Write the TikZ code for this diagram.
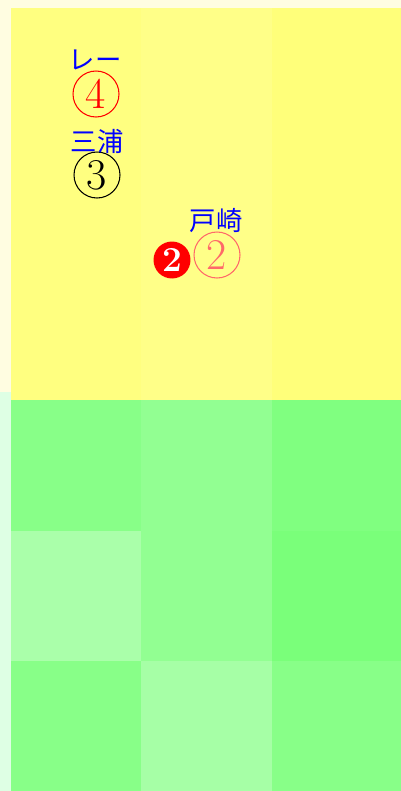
\documentclass[tikz,border=0pt]{standalone}
\usepackage{fontspec}
\newfontfamily\jpfont{Noto Sans CJK JP}
\usetikzlibrary{positioning}

\definecolor{paleyellow}{RGB}{255,253,225}
\definecolor{palegreen}{RGB}{222,255,228}
\definecolor{lightred}{RGB}{255,105,105}
\definecolor{yelA}{RGB}{255,255,128}
\definecolor{yelB}{RGB}{255,255,136}
\definecolor{yelC}{RGB}{255,255,122}
\definecolor{grnA}{RGB}{136,255,136}
\definecolor{grnB}{RGB}{146,255,146}
\definecolor{grnC}{RGB}{128,255,128}
\definecolor{grnD}{RGB}{170,255,170}
\definecolor{grnE}{RGB}{122,255,122}
\definecolor{grnF}{RGB}{166,255,166}

\tikzset{
  player/.style={circle,draw,line width=0.6pt,minimum size=0.92cm,inner sep=0pt,
    font=\fontsize{25}{25}\selectfont},
  ball/.style={circle,fill=red,text=white,minimum size=0.74cm,inner sep=0pt,
    font=\fontsize{20}{20}\selectfont\bfseries},
  plname/.style={text=blue,inner sep=0pt,font=\jpfont\fontsize{15}{15}\selectfont}
}

\begin{document}
\begin{tikzpicture}[x=0.02cm,y=-0.02cm]
  \useasboundingbox (0,0) rectangle (401,791);
  % background
  \fill[paleyellow] (0,0) rectangle (401,392);
  \fill[palegreen] (0,392) rectangle (401,791);
  % yellow half
  \fill[yelA] (11,8) rectangle (141,400);
  \fill[yelB] (141,8) rectangle (272,400);
  \fill[yelC] (272,8) rectangle (401,400);
  % green grid
  \fill[grnA] (11,400) rectangle (141,531);
  \fill[grnB] (141,400) rectangle (272,531);
  \fill[grnC] (272,400) rectangle (401,531);
  \fill[grnD] (11,531) rectangle (141,661);
  \fill[grnB] (141,531) rectangle (272,661);
  \fill[grnE] (272,531) rectangle (401,661);
  \fill[grnA] (11,661) rectangle (141,791);
  \fill[grnF] (141,661) rectangle (272,791);
  \fill[grnA] (272,661) rectangle (401,791);
  % players
  \node[player,draw=red,text=red] (p4) at (96,94) {4};
  \node[player,draw=black] (p3) at (97,175) {3};
  \node[player,draw=lightred,text=lightred] (p2) at (217,255) {2};
  \node[ball] (b2) at (172,260) {2};
  % names
  \node[plname] (n4) at (95,60) {レー};
  \node[plname] (n3) at (97,141) {三浦};
  \node[plname] (n2) at (216,221) {戸崎};
\end{tikzpicture}
\end{document}
